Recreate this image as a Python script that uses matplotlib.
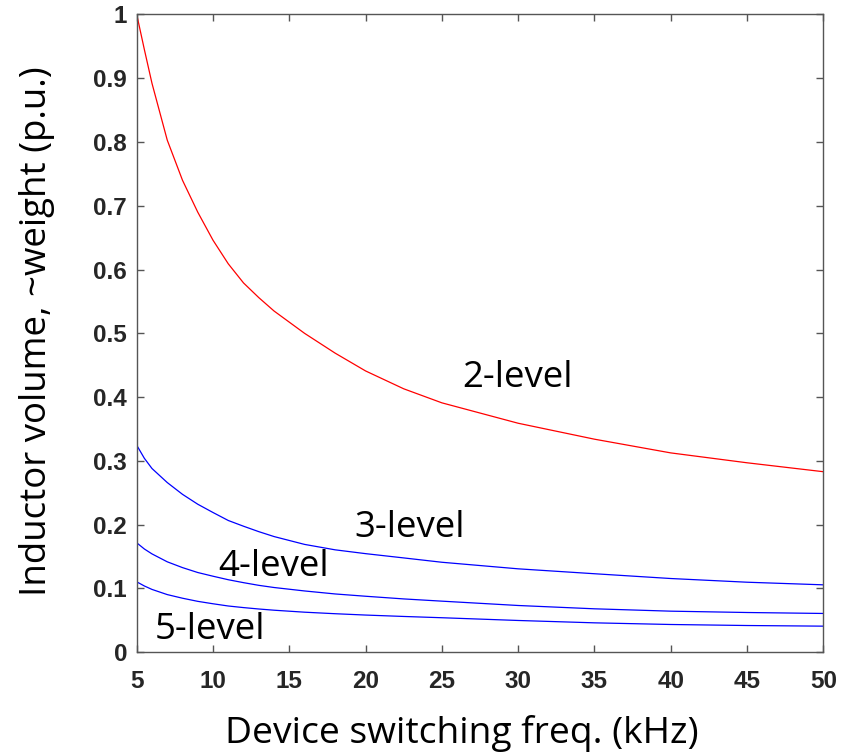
import matplotlib
matplotlib.use("Agg")
import matplotlib.pyplot as plt

freq = [5, 5.5, 6, 7, 8, 9, 10, 11, 12, 13, 14, 16, 18, 20, 22.5, 25, 30, 35, 40, 45, 50]
level2 = [1.0, 0.945, 0.892, 0.803, 0.740, 0.690, 0.646, 0.609, 0.579, 0.556, 0.535, 0.500,
          0.469, 0.441, 0.413, 0.391, 0.359, 0.334, 0.3125, 0.297, 0.283]
level3 = [0.3245, 0.304, 0.288, 0.266, 0.2475, 0.232, 0.219, 0.2065, 0.1975, 0.189, 0.1813,
          0.169, 0.1605, 0.1545, 0.1478, 0.141, 0.1307, 0.123, 0.1155, 0.1097, 0.1056]
level4 = [0.1715, 0.1618, 0.1541, 0.1417, 0.1326, 0.1249, 0.1191, 0.1136, 0.1090, 0.1048,
          0.1014, 0.0960, 0.0913, 0.0877, 0.0835, 0.0800, 0.0732, 0.068, 0.0643, 0.0622, 0.0607]
level5 = [0.1103, 0.1038, 0.0984, 0.0903, 0.0846, 0.0797, 0.0759, 0.0724, 0.0699, 0.0677,
          0.0658, 0.0627, 0.0603, 0.0582, 0.0560, 0.0540, 0.0497, 0.046, 0.0434, 0.0418, 0.0408]

labels = ["2-level", "3-level", "4-level", "5-level"]
label_x = [29.95, 22.91, 13.95, 9.80]
label_y = [0.4163, 0.181, 0.120, 0.0207]

xticks = [5, 10, 15, 20, 25, 30, 35, 40, 45, 50]
yticks = [0, 0.1, 0.2, 0.3, 0.4, 0.5, 0.6, 0.7, 0.8, 0.9, 1]
ytick_labels = ["0", "0.1", "0.2", "0.3", "0.4", "0.5", "0.6", "0.7", "0.8", "0.9", "1"]

fig = plt.figure(figsize=(8.53, 7.55), dpi=100)
ax = fig.add_axes([0.1603, 0.1362, 0.9652 - 0.1603, 0.9808 - 0.1362])

ax.plot(freq, level2, color="#ff0000", lw=0.9)
ax.plot(freq, level3, color="#0000ff", lw=0.9)
ax.plot(freq, level4, color="#0000ff", lw=0.9)
ax.plot(freq, level5, color="#0000ff", lw=0.9)

for t, x, y in zip(labels, label_x, label_y):
    ax.text(x, y, t, ha="center", va="baseline", fontsize=26.4, family="Open Sans", color="black")

ax.set_xlim(5, 50)
ax.set_ylim(0, 1)
ax.set_xticks(xticks)
ax.set_xticklabels([str(v) for v in xticks])
ax.set_yticks(yticks)
ax.set_yticklabels(ytick_labels)

spine_col = "#555555"
for s in ax.spines.values():
    s.set_color(spine_col)
    s.set_linewidth(1.0)
ax.tick_params(direction="in", length=5, width=1.0, color=spine_col,
               top=True, right=True, labelcolor="#262626", labelsize=17.5)
ax.tick_params(axis="x", pad=13)
ax.tick_params(axis="y", pad=7)
for lab in ax.get_xticklabels() + ax.get_yticklabels():
    lab.set_fontfamily("Liberation Sans")
    lab.set_fontweight("bold")

ax.set_xlabel("Device switching freq. (kHz)", fontsize=26.8, family="Open Sans")
ax.xaxis.label.set_va("baseline")
ax.xaxis.set_label_coords(0.4738, -0.1424)
ax.set_ylabel("Inductor volume, ~weight (p.u.)", fontsize=26.4, family="Open Sans")
ax.yaxis.set_label_coords(-0.119, 0.503)

fig.savefig("out.png", dpi=100)
